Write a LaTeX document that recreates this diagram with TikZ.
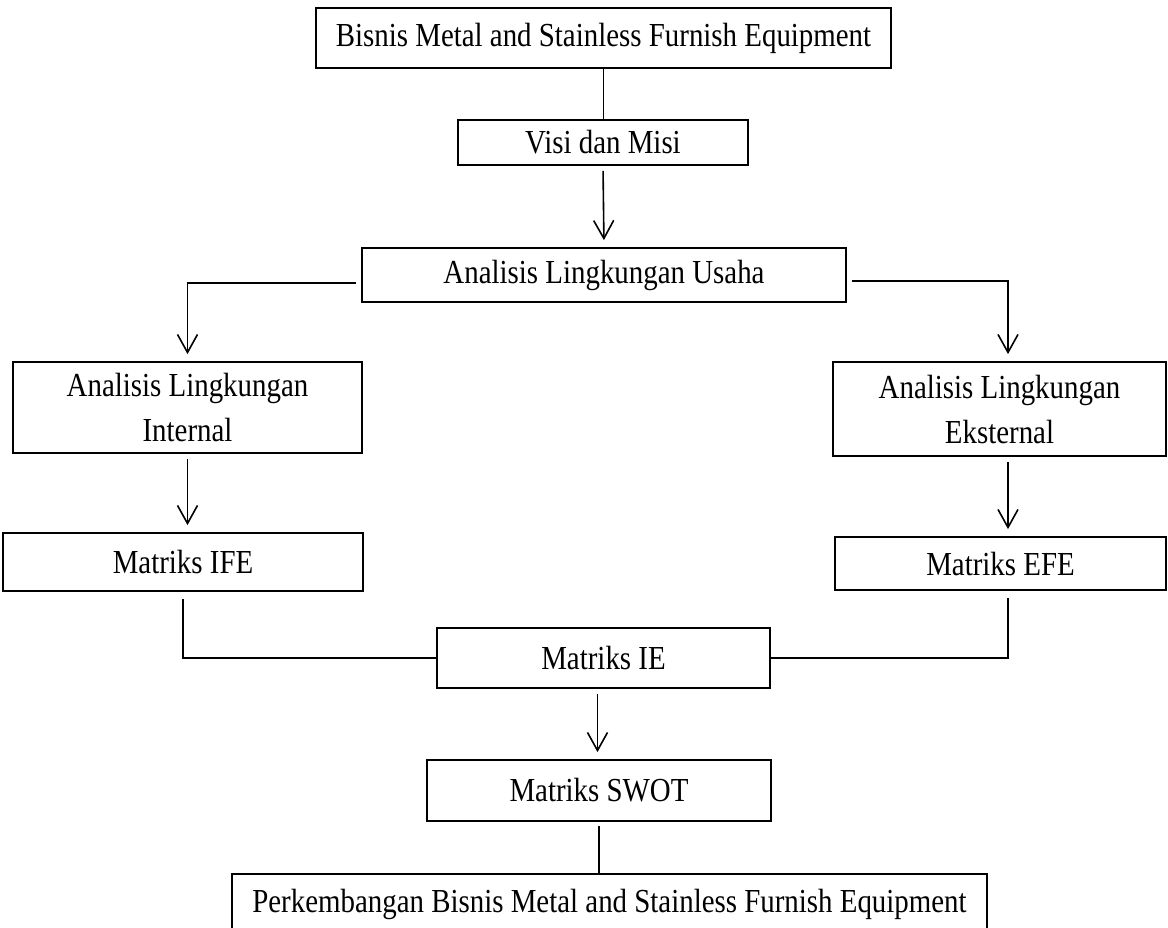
\documentclass[tikz,border=0pt]{standalone}
\usepackage{fontspec}
\setmainfont{Liberation Serif}[FakeStretch=0.86]
\usetikzlibrary{arrows.meta}

\begin{document}
\begin{tikzpicture}[
    x=0.5pt, y=-0.5pt,
    flowbox/.style={rectangle, draw=black, line width=0.9pt, align=center, inner sep=0pt, font=\fontsize{16.8}{22.5}\selectfont},
    arrow/.style={-{Straight Barb[length=9pt, width=10pt]}, line width=0.8pt, shorten <=2.5pt, shorten >=3.5pt},
    link/.style={line width=0.8pt}
]
\useasboundingbox (0,0) rectangle (1168,927);
\node[flowbox, minimum width=287.5pt, minimum height=30pt] (bisnis) at (603.5,38) {Bisnis Metal and Stainless Furnish Equipment};
\node[flowbox, minimum width=145pt, minimum height=22.5pt] (visi) at (603,142.5) {Visi dan Misi};
\node[flowbox, minimum width=242pt, minimum height=27pt] (usaha) at (604,275) {Analisis Lingkungan Usaha};
\node[flowbox, minimum width=174.5pt, minimum height=45.5pt] (internal) at (187.5,407.5) {Analisis Lingkungan\\Internal};
\node[flowbox, minimum width=166.5pt, minimum height=47pt] (eksternal) at (999.5,409) {Analisis Lingkungan\\Eksternal};
\node[flowbox, minimum width=180pt, minimum height=29pt] (ife) at (183,562) {Matriks IFE};
\node[flowbox, minimum width=165.5pt, minimum height=26.5pt] (efe) at (1000.5,563.5) {Matriks EFE};
\node[flowbox, minimum width=166.5pt, minimum height=30pt] (ie) at (603.5,658) {Matriks IE};
\node[flowbox, minimum width=172pt, minimum height=30.5pt] (swot) at (599,790.5) {Matriks SWOT};
\node[flowbox, minimum width=377.5pt, minimum height=30.5pt] (perkembangan) at (609.5,904.5) {Perkembangan Bisnis Metal and Stainless Furnish Equipment};

% alur utama
\draw[link] (bisnis.south) -- (bisnis.south |- visi.north);
\draw[arrow] (visi.south) -- (usaha.north);
\draw[arrow] ([yshift=-4pt]usaha.west) -| (internal.north);
\draw[arrow] ([yshift=-3pt]usaha.east) -| ([xshift=4.25pt]eksternal.north);
\draw[arrow] (internal.south) -- (internal.south |- ife.north);
\draw[arrow] ([xshift=4.25pt]eksternal.south) -- ([xshift=4.25pt]eksternal.south |- efe.north);
\draw[link, shorten <=3.5pt] (ife.south) |- (ie.west);
\draw[link, shorten <=3.5pt] ([xshift=3.75pt]efe.south) |- (ie.east);
\draw[arrow] ([xshift=-3pt]ie.south) -- ([xshift=-3pt]ie.south |- swot.north);
\draw[link, shorten <=2pt] (swot.south) -- (swot.south |- perkembangan.north);
\end{tikzpicture}
\end{document}
